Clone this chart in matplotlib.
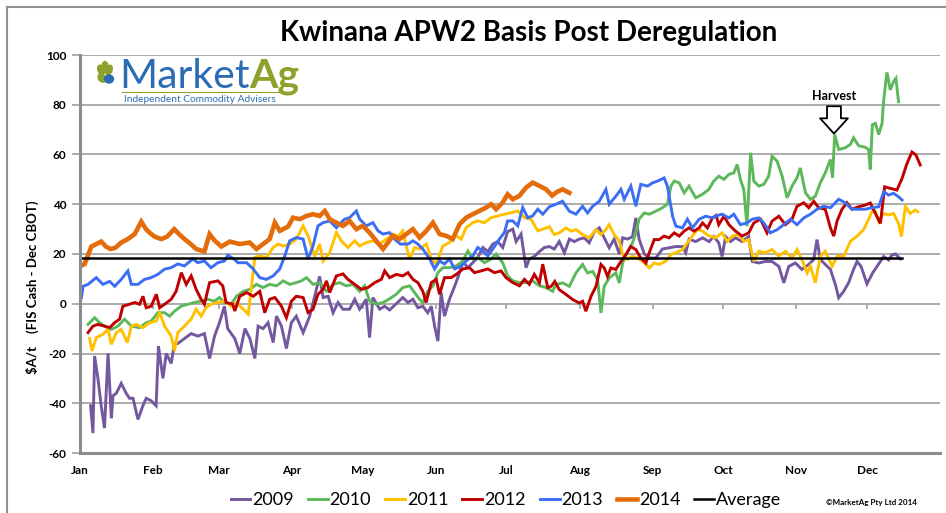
import matplotlib
matplotlib.use("Agg")
import matplotlib.pyplot as plt
from matplotlib.lines import Line2D
from matplotlib.patches import Ellipse

plt.rcParams['font.family'] = ['Lato', 'DejaVu Sans']

# ---- data (day of year, $A/t) ----
month_starts = [0, 31, 59, 90, 120, 151, 181, 212, 243, 273, 304, 334]
month_labels = ['Jan', 'Feb', 'Mar', 'Apr', 'May', 'Jun', 'Jul', 'Aug', 'Sep', 'Oct', 'Nov', 'Dec']
y_ticks = [-60, -40, -20, 0, 20, 40, 60, 80, 100]

days_2009 = [4.5, 5.5, 6.2, 7.6, 9, 10.4, 11.9, 13.3, 14, 15.4, 17.5, 19.6, 21, 22.5, 24.6, 26.7, 28.1, 30.2,
             32.3, 33.3, 35.2, 36.6, 38.7, 40.1, 41.5, 44.3, 47.2, 50, 52.8, 55, 57.1, 59.2, 61.3, 62.7, 65.7,
             67.8, 70, 72.1, 74.2, 75.6, 77.7, 79.8, 82, 83.4, 85.5, 87.6, 89.7, 91.8, 94.7, 97.5, 99.6, 101.7,
             103.2, 105.3, 107.4, 109.5, 111.6, 114.4, 116.6, 118.7, 121.5, 122.9, 124.3, 127.2, 129.3, 131.4,
             134.2, 137, 139.2, 141.3, 143.4, 145.5, 147.6, 149.1, 150.5, 151.9, 153.3, 154.7, 156.8, 159, 161.1,
             162.5, 164.6, 166.7, 168.8, 171, 173.1, 175.2, 177.3, 179.4, 181.5, 183.7, 185.1, 187.2, 189.3,
             190.7, 192.8, 195, 197.1, 199.2, 201.3, 203.4, 205.6, 207.7, 209.8, 211.9, 214, 216.1, 218.3, 220.4,
             222.5, 224.6, 226.7, 228.9, 230.3, 232.4, 234.5, 235.9, 237.3, 239.5, 241.6, 244.4, 247.2, 250,
             252.9, 255.7, 257.1, 258.5, 261.3, 264.2, 267, 269, 271.1, 272.5, 274, 276.1, 278.2, 281, 283.8,
             285.3, 288.1, 290.9, 293.7, 296.6, 298.7, 300.8, 303.6, 306.4, 309.3, 311.4, 312.8, 314.2, 316.3,
             318.5, 320.6, 322, 324.1, 326.2, 328.3, 329.8, 331.5, 334, 336.5, 339, 341.1, 343.2, 344.6, 346.1,
             348.2]
vals_2009 = [-41, -52, -21, -30, -41, -50, -20, -46, -37, -36, -32, -36, -38, -38, -46.5, -41, -38, -39,
             -41, -17, -30, -20, -24, -16, -16, -14, -12, -13, -12, -22, -13, -7.6, -1, -10, -14,
             -20, -10, -14, -22, -9, -10, -7.6, -15.6, -5, -9, -18, -7.6, -5, -11.6, -5, 3, 11,
             2.5, 3, -3.6, 0.5, -2.2, -2.2, 1.8, -2.2, 1.8, -13.6, 2.5, -2.2, -1, -2.5,
             0, 2.5, 0.5, 1.8, -1.6, -1, -3.6, -1, -9, -15, 4.5, -5, 1.8, 7, 12.5,
             17, 14.5, 16.5, 18.6, 22.6, 21, 24, 25, 22.6, 29, 30, 25, 28, 14.5,
             18, 19, 21, 22.6, 23, 22, 25, 20.5, 26, 25, 26, 26.5, 24.5, 29, 30.5,
             26.5, 22.5, 26, 20, 26.5, 26, 27, 34.5, 26, 20, 18.4, 18.4, 22, 22.5,
             23, 23, 20.5, 26, 25, 26.5, 25, 27, 24.5, 19, 27, 25, 26.5, 25, 27,
             17, 16.4, 17, 17, 15, 8.4, 15, 16.4, 13.8, 15.8, 17.8, 25.8, 17.8, 15.8,
             13.8, 7.7, 2.4, 5, 8.4, 13.8, 17, 15, 8, 12.5, 16, 19, 17.6, 19.6, 20,
             18]

days_2010 = [3.4, 6.2, 8.3, 10.4, 13.3, 16.1, 18.9, 21.8, 25.3, 28.1, 30.2, 33, 35.9, 38, 40.1, 42.9, 45.8,
             48.6, 51.4, 54.2, 57, 59.2, 61.3, 64.1, 66.4, 69.3, 72.1, 74.9, 77.7, 80.5, 83.4, 86.2, 89, 91.8,
             94, 96.1, 98.9, 101.7, 104.6, 107.4, 110.2, 113, 115.9, 118.7, 120.8, 122.9, 125.7, 128.6, 131.4,
             134.2, 137, 139.9, 142, 144.1, 145.5, 147.6, 149.8, 151.9, 154, 156.8, 159.7, 162.5, 164.6, 166.7,
             168.8, 171.7, 174.5, 176.6, 179.4, 181.5, 183.7, 186.5, 189.3, 192.1, 195, 197.8, 200.6, 202,
             204.8, 207.7, 210.5, 213.3, 215.4, 217.6, 219.7, 221.1, 222.5, 224.6, 227.4, 228.9, 230.3, 232.4,
             234.5, 235.9, 237.3, 239.5, 241.6, 244.4, 247.2, 249.3, 250.8, 252.2, 254.3, 256.4, 258.5, 261.3,
             264.2, 266.9, 269, 271.1, 273.3, 275.4, 277.5, 278.9, 280.3, 281.7, 283.1, 284.6, 286, 288.1,
             290.2, 292.3, 293.7, 295.9, 298, 300.1, 302.2, 304.3, 305.7, 307.9, 310, 312.1, 314.2, 316.3,
             318.5, 319.4, 320.3, 322, 324.8, 326.9, 328.3, 330.5, 333, 334.7, 335.4, 336.3, 337.6, 339, 340.4,
             341.1, 342.5, 343.9, 345.3, 346.3, 347.4]
vals_2010 = [-8.3, -5.6, -7.6, -9, -10.3, -9, -6.2, -9, -9.6, -7.6, -7, -3.6, -3.6, -5, -3, -1, -0.2,
             0.5, 1.1, 1.8, 1.1, 2.5, 0.5, -0.2, 3, 5, 5.8, 7.8, 6.5, 7.8, 7.2, 9.2, 7.8, 8.5,
             9.2, 10.5, 7.8, 8.5, 5, 7.8, 8.5, 7.2, 7.8, 5, 7.2, 1.1, -0.2, 0.5, 2,
             3.8, 6.5, 7.2, 4.5, 1.8, 0.5, 5, 7.2, 12.5, 14.5, 14.5, 15.2, 17.2, 21.2, 18,
             18.6, 16.5, 18, 20, 16.5, 11.2, 9.2, 8.5, 8.5, 9.2, 7.2, 6.5, 5, 7.7,
             8.4, 7, 12.4, 15.8, 12.4, 13, 9.7, -3.7, 7, 10.4, 12.4, 8.4, 16.4, 21,
             24.5, 28.5, 34, 36.5, 36, 37.2, 38.6, 40, 47.3, 49.3, 48.6, 44.6, 47.3, 42.6,
             44, 46, 49.3, 51.3, 50, 52, 52.6, 56, 50, 46, 31.2, 60.7, 49.3, 47.3,
             48, 51.3, 59.3, 57.3, 51.3, 42.6, 47.3, 50.6, 54.6, 44.6, 42, 43.2, 48.6, 52.6,
             58, 50.6, 68, 62, 62.7, 64, 66.7, 63.5, 63, 62, 54, 72, 72.5, 68, 72.5,
             82, 93, 86, 89.3, 90.6, 81.2]

days_2011 = [4.1, 5.1, 6.9, 9.7, 11.9, 13.3, 15.4, 17.5, 20.1, 21.8, 23.9, 26.7, 29.5, 32.3, 33.8, 35.9, 38.7,
             40.1, 41.5, 44.3, 47.2, 49.3, 51.4, 53.5, 55.6, 58.5, 61.3, 64.1, 66.4, 69.3, 71.4, 72.8, 74.2,
             76.3, 79.1, 82, 84.1, 86.2, 89, 91.8, 94.7, 96.8, 99.6, 101.7, 103.2, 106, 108.8, 110.9, 113.7,
             116.6, 118.7, 121.5, 124.3, 127.2, 130, 132.8, 134.9, 137, 138.5, 139.9, 142, 144.1, 147, 149.1,
             151.2, 154, 156.8, 159.7, 161.8, 163.9, 166.7, 168.8, 171.7, 174.5, 177.3, 180.1, 183, 185.8,
             188.6, 191.4, 194.3, 196.4, 199.2, 201.3, 203.4, 206.3, 208.4, 210.5, 213.3, 216.1, 219, 221.1,
             223.2, 224.6, 226.7, 228.9, 230.3, 232.4, 234.5, 236.6, 238.7, 241.6, 243.7, 245.8, 248.6, 250.8,
             252.9, 255.7, 257.8, 259.9, 262, 264.2, 266.5, 269.7, 272.5, 274.7, 276.8, 279.6, 281.7, 283.8,
             286, 288.1, 290.9, 293.7, 296.6, 299.4, 302.2, 304.3, 306.4, 308.6, 310, 312.1, 314.2, 316.3,
             319.2, 321.3, 324.1, 327, 329.8, 332.6, 334.7, 336.1, 337.6, 339, 341.1, 343.2, 345.3, 347.4,
             348.6, 350.3, 352.4, 354.5, 355.6]
vals_2011 = [-14, -19, -13.6, -12.3, -10.3, -16.3, -11.6, -10.3, -15.6, -9, -8.3, -9.6, -7.6, -7, -3.6, -9, -13,
             -19, -11.6, -9, -6.2, -2.2, -5, -1.6, -0.2, 0.5, 1.1, -1, 0.5, -2.2, -4.2, 7.2, 18.6,
             19.2, 18.6, 22.6, 24, 23.2, 24, 26, 31.3, 27.3, 19.2, 24, 17.2, 20.6, 28.6, 25.3, 22.6,
             25.3, 23.2, 24.6, 25.3, 24, 26, 28, 27, 29.3, 23.2, 18, 22.6, 22, 24, 18,
             16, 23.2, 24.6, 27.3, 26, 30.6, 32.6, 33.3, 32.6, 34.6, 35.3, 36, 36.6, 37.3,
             34.6, 34, 29.3, 30, 31, 27.8, 28.5, 30.5, 29.2, 29.8, 27.8, 26.5, 29.8, 27.8,
             29.8, 31.8, 27.8, 25.2, 19.8, 17.8, 19.1, 18.4, 17.1, 14.4, 16.4, 15.8, 17.1, 19.8,
             20.5, 21.8, 24.5, 27.2, 29.8, 29.2, 27.5, 26.5, 28.5, 25.1, 27.2, 27.8, 25.1, 25.8,
             17.1, 21.1, 20.5, 21.8, 19.1, 21.1, 18.4, 21.8, 17.8, 12.4, 15.1, 8.4, 19.1, 21.1,
             15.1, 19.1, 19.1, 25.1, 27.2, 29.8, 34, 37, 37, 33, 36.3, 35.7, 36.3, 32.3,
             27, 39, 36.3, 37.7, 37]

days_2012 = [3.4, 5.5, 7.6, 10.4, 12.6, 14.7, 16.8, 18.2, 21, 23.2, 25.3, 26.7, 28.1, 30.2, 32.4, 33.8, 35.9,
             38.7, 40.8, 43, 45.1, 47.2, 49.3, 51.4, 52.8, 55, 58.5, 60.6, 62, 64.8, 65.7, 67.8, 70.7, 73.5,
             76.3, 78.4, 80.5, 82.7, 85.5, 87.6, 89.7, 91.8, 94.7, 96.8, 98.9, 101, 103.2, 104.6, 106, 108.8,
             111.6, 113.7, 116.6, 119.4, 122.2, 125.1, 127.9, 129.3, 131.4, 134.2, 137, 139.2, 141.3, 143.4,
             145.5, 146.9, 149.1, 151.2, 152.6, 154.7, 157.5, 159.7, 162.5, 165.3, 167.4, 170.2, 173.1, 175.9,
             178.7, 180.8, 183.7, 186.5, 188.6, 190.7, 192.8, 195, 196.4, 198.5, 200, 201.5, 203.4, 206.3,
             209.1, 211.9, 213.3, 214.7, 216.9, 219, 221.1, 222.5, 223.9, 225.3, 227.4, 229.6, 231.7, 233.8,
             235.9, 238, 240.2, 241.6, 243.7, 245.8, 247.9, 250, 252.2, 254.3, 256.4, 258.5, 260.6, 262.8,
             264.2, 266.3, 268.4, 270, 271.1, 273.3, 275.4, 278.2, 281, 283.8, 286, 288.8, 291.6, 293.7, 296.6,
             299.4, 302.2, 304.3, 307.2, 309.3, 311.4, 313.5, 316.3, 318.5, 319.9, 321.3, 323.4, 325.5, 327.6,
             330.5, 333.3, 335.4, 337.6, 339.7, 341.5, 343.9, 346.7, 348.9, 351, 353.1, 354.8, 356.6]
vals_2012 = [-11.6, -9, -8.3, -9, -9.6, -7.6, -6.2, -1, -0.2, 0.5, -0.2, 3, -1.6, -1, 3.8, -1.6, -0.2,
             1.8, 5, 12.5, 7.8, 11.2, 5.8, 1.8, -0.2, 8.5, 9.2, 7.2, 0.5, -0.2, -2.9, 3, 4.5, 3,
             5, -3.6, 1.8, 2.5, -1, -5.6, 1, 3, 2.5, -3.6, -2.2, 3.8, 5.8, 9.2, 4.5, 11.2,
             12, 9.8, 7.8, 5.8, 6.5, 8.5, 9.8, 13.2, 10.5, 11.8, 11.2, 12.5, 9.8, 8.5,
             5, 0.5, 8.5, 9.8, 3.8, 10.5, 10.5, 11.8, 14, 14.5, 12.5, 13.2, 14, 12.5,
             13.2, 10.5, 8.5, 7.2, 9.8, 7.8, 11.8, 8.5, 15.9, 6.5, 7, 9, 5.7, 3.7,
             1.7, 0.3, 1, -3, 3, 7, 15.8, 14.4, 11, 14.4, 13.8, 17, 19.8, 23,
             21.8, 18.4, 16.4, 20.5, 25.8, 25.8, 27.2, 26.5, 28.5, 27.2, 29.2, 30.5, 29.2, 30.5,
             32.5, 30.5, 34.5, 35.5, 31.8, 35.2, 31.8, 29.2, 27.2, 28.5, 32.5, 34, 28.5, 33.2, 35.2,
             31.8, 34, 39.2, 40.6, 38.6, 41.2, 38.6, 38, 30.5, 27.2, 33.2, 38, 40.6, 38,
             39, 39.7, 40.5, 36.3, 32.3, 47, 46.4, 45.7, 50.4, 56.4, 61, 59.8, 55.8]

days_2013 = [0.6, 1.3, 3.4, 6.9, 9.7, 12.6, 14.7, 17.5, 20.3, 21.8, 24.6, 27.4, 30.2, 33, 35.9, 38.7, 41.5,
             44.3, 47.9, 50, 52.8, 55.6, 58.5, 61.3, 62.7, 65.5, 67, 70.7, 73.5, 76.3, 79.1, 82, 84.8, 86.9,
             89, 91.8, 94.7, 96.8, 98.9, 101, 103.2, 106, 108.8, 112.3, 114.4, 117.3, 118.7, 121.5, 124.3,
             126.5, 128.6, 131.4, 133.5, 136, 139.2, 141.3, 143.4, 145.5, 148.4, 150.5, 152.6, 154.7, 156.8,
             159, 161.8, 163.9, 166.7, 168.8, 170.9, 173.1, 175.2, 178, 180.1, 181.5, 183.7, 185.8, 187.9, 190,
             192.1, 194.3, 196.4, 199.2, 202, 204.8, 207.7, 210.5, 213.3, 215.4, 217.6, 220.4, 223.2, 224.6,
             227.4, 229.6, 231, 233.8, 235.9, 238, 240.9, 243, 245.1, 247.9, 249.3, 251.5, 252.9, 255.7,
             257.8, 259.9, 262.8, 265.6, 268.4, 269.7, 272.5, 275.4, 277.5, 280.3, 283.1, 285.3, 288.1, 290.2,
             293, 295.9, 298.7, 301.5, 304.3, 307.2, 310, 312.8, 315.6, 318.5, 322, 324.8, 327.6, 330.5, 333.3,
             336.1, 339, 341.1, 343.2, 345.3, 347.4, 348.9]
vals_2013 = [2.5, 7, 7.8, 10.5, 7.8, 9, 7, 9.8, 13.2, 7.8, 7.8, 9.8, 10.5, 11.8, 13.9, 14.5, 16,
             15.2, 18, 16.5, 17.2, 14.5, 16.5, 17.2, 19.5, 17.9, 16.5, 16.5, 14, 10.5, 9.8, 11.2, 14, 19.2,
             25.3, 26.6, 26, 18, 23.2, 31.3, 32.6, 33.3, 30.6, 34, 34.6, 37.3, 34, 31.3, 32.6,
             29.3, 28, 28.6, 26, 24, 24, 25.3, 24, 22, 18, 14, 17.2, 16, 18,
             14, 15.2, 17.2, 19.2, 22.6, 21.2, 19.2, 22, 26, 28.6, 33.3, 33.3, 31.3, 38.7, 34.6,
             35.3, 38, 36, 39, 40, 41.2, 37.2, 36, 39.2, 36.5, 39.2, 41.2, 46, 40,
             43.2, 46, 42, 47.3, 39.2, 48, 47.3, 48.6, 49.3, 50.6, 47.3, 35.2, 31.2, 30.5,
             34, 30.5, 34, 35.2, 34.5, 35.2, 36, 34.5, 36, 31.8, 32.5, 34, 34.5, 32.5,
             28.5, 29.8, 31.8, 34, 31.8, 34.5, 36, 38, 39.2, 38.6, 42, 40.6, 38, 38, 38,
             38.6, 39, 45, 43.7, 44.4, 43, 41.7]

days_2014 = [0, 2, 4.8, 7, 9, 11, 13, 15, 17.5, 20.3, 23.2, 26, 28, 29.5, 31.6, 34.5, 37, 40, 42, 44.4, 47,
             49.3, 52.8, 55, 57, 60, 63.6, 67.8, 72, 74.9, 77.7, 80.5, 82.7, 84.8, 88.3, 90.4, 93.3, 96.1,
             98.9, 101.7, 103.9, 106, 108.8, 111.6, 114.4, 117.3, 120, 122.9, 125.7, 128.6, 130.7, 132.8,
             135.6, 138.5, 141.3, 144.1, 147, 149.8, 152.6, 155.4, 158.2, 161.1, 163.9, 166.7, 169.5, 172.4,
             174.5, 176.6, 179.4, 181.5, 183.7, 186.5, 189.3, 192.1, 195, 197.8, 200.4, 202.5, 204.8, 207.7]
vals_2014 = [15, 16, 23, 24, 25, 23, 22, 22.5, 24.6, 26, 28, 33, 30, 28.6, 27, 26, 27, 30, 28, 26, 24,
             22, 21, 28, 25.5, 23, 25, 24, 24.6, 22, 24, 26, 32.6, 29.3, 31, 34.6, 34, 35.3,
             36, 35.3, 37.3, 34, 32.6, 31.3, 33.3, 30, 31.3, 28.6, 25.3, 22, 24.6, 27.3,
             26, 28, 30, 26.6, 29.3, 32.6, 28, 27.3, 26, 32, 34.6, 36, 37.3, 38.7,
             40, 38, 40.7, 44, 42, 43.4, 46.7, 48.7, 47.4, 46, 43.5, 45, 46, 44.6]

avg_days = [0, 349]
avg_vals = [18.4, 18.4]

series = [
    ('2009', days_2009, vals_2009, '#7358a0', 2.1),
    ('2010', days_2010, vals_2010, '#5cb85a', 2.1),
    ('2011', days_2011, vals_2011, '#ffc000', 2.1),
    ('2012', days_2012, vals_2012, '#c00000', 2.1),
    ('2013', days_2013, vals_2013, '#3b6ef5', 2.1),
    ('2014', days_2014, vals_2014, '#e46c0a', 3.3),
]

fig = plt.figure(figsize=(9.46, 5.13), dpi=100)
ax = fig.add_axes([80 / 946, 60 / 513, 860 / 946, 398 / 513])

handles = []
for name, d, v, c, lw in series:
    line, = ax.plot(d, v, color=c, lw=lw, solid_joinstyle='miter', label=name)
    handles.append(line)
avg_line, = ax.plot(avg_days, avg_vals, color='black', lw=1.8, label='Average')
handles.append(avg_line)

ax.set_xlim(0, 365)
ax.set_ylim(-60, 100)
ax.set_yticks(y_ticks)
ax.set_yticklabels([str(t) for t in y_ticks], fontweight='bold', fontsize=8.5)
ax.set_xticks(month_starts)
ax.set_xticklabels(month_labels, fontweight='bold', fontsize=8.5)
ax.tick_params(axis='x', length=0, pad=9)
ax.tick_params(axis='y', length=6, width=1.2, color='#a0a0a0', pad=4)
ax.grid(axis='y', color='#a6a6a6', lw=1.3)
ax.set_axisbelow(True)
for s in ['top', 'right']:
    ax.spines[s].set_visible(False)
for s in ['left', 'bottom']:
    ax.spines[s].set_color('#8c8c8c')
    ax.spines[s].set_linewidth(2.2)
# month tick marks hanging off the zero line
ax.vlines(month_starts, -2.3, 0, color='#a0a0a0', lw=1.2, zorder=0.5)

fig.text(0.034, 0.44, '\\$A/t    (FIS Cash - Dec CBOT)', rotation=90, ha='center', va='center',
         fontsize=9.5, fontweight='bold')
fig.text(529 / 946, 1 - 33 / 513, 'Kwinana APW2 Basis Post Deregulation', ha='center', va='center',
         fontsize=20, fontweight='bold')

# harvest marker
ax.text(320, 83.5, 'Harvest', ha='center', va='center', fontsize=9, fontweight='bold')
ax.annotate('', xy=(320, 68.4), xytext=(320, 79.4),
            arrowprops=dict(arrowstyle='simple,head_length=0.55,head_width=1.0,tail_width=0.5',
                            mutation_scale=20, fc='white', ec='black', lw=1.3, shrinkA=0, shrinkB=0))

# legend
fig.legend(handles=handles, loc='center', bbox_to_anchor=(506 / 946, 1 - 500 / 513), ncol=7,
           frameon=False, fontsize=13, handlelength=1.1, handletextpad=0.1, columnspacing=0.78,
           borderaxespad=0)
fig.text(871 / 946, 1 - 502 / 513, '©MarketAg Pty Ltd 2014', ha='center', va='center',
         fontsize=5.8, fontweight='bold')

# logo
mk = fig.text(119 / 946, 1 - 88 / 513, 'Market', color='#2b6cb5', fontsize=29.5, ha='left', va='baseline')
ax.annotate('Ag', xy=(1, 0), xycoords=mk, color='#8ea12c', fontsize=29.5, fontweight='bold',
            ha='left', va='bottom', annotation_clip=False)
fig.text(124 / 946, 1 - 99.5 / 513, 'Independent Commodity Advisers', color='#2b6cb5', fontsize=7.3,
         ha='left', va='center')
fig.add_artist(Line2D([122 / 946, 290 / 946], [1 - 91.5 / 513] * 2, color='#8ea12c', lw=0.8))
icon = fig.add_axes([94 / 946, 1 - 88 / 513, 24 / 946, 28 / 513])
icon.set_xlim(0, 24)
icon.set_ylim(0, 28)
icon.axis('off')
for cx, cy, w, h, a in [(7, 18, 6, 10, 20), (11, 21, 6, 11, 0), (15, 18, 6, 10, -20), (8, 10, 7, 9, 40)]:
    icon.add_patch(Ellipse((cx, cy), w, h, angle=a, color='#8ea12c'))
icon.add_patch(Ellipse((15, 9), 9, 8, color='#2b6cb5'))

# outer frame
fig.add_artist(Line2D([7 / 946, 7 / 946], [0, 1 - 7 / 513], color='#909090', lw=1.5))
fig.add_artist(Line2D([7 / 946, 1], [1 - 7 / 513] * 2, color='#909090', lw=1.5))

fig.savefig('out.png', dpi=100)
